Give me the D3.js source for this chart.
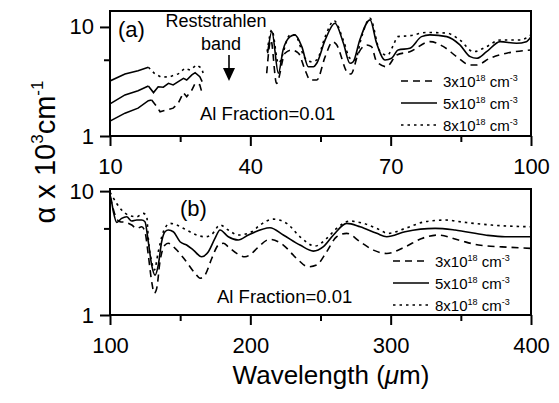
<!DOCTYPE html>
<html>
<head>
<meta charset="utf-8">
<script src="https://cdn.jsdelivr.net/npm/d3@7"></script>
<style>
  body { margin: 0; background: #fff; }
  text { font-family: "Liberation Sans", Arial, Helvetica, sans-serif; fill: #000; }
</style>
</head>
<body>
<svg width="559" height="403"></svg>
<script>
// ---- data: [wavelength (um), alpha (10^3 cm^-1)] ----
// panel (a), below the Reststrahlen band
const a3Low = [[10,1.37],[13.2,1.62],[16,1.8],[18.2,2.11],[18.9,2.14],[20,1.86],[20.7,1.67],[22.1,1.73],[23.5,1.8],[24.6,2.0],[25.7,2.5],[26.4,2.29],[27.5,2.64],[28.2,3.04],[29.2,2.94],[29.6,2.55]];
const a5Low = [[10,1.97],[13.2,2.38],[16,2.6],[18.2,2.87],[19.3,2.5],[20.3,2.83],[21.4,2.8],[22.5,3.04],[23.5,2.94],[24.6,3.15],[25.7,3.38],[26.4,3.26],[27.5,3.63],[28.2,3.81],[29.2,3.5],[29.7,3.15]];
const a8Low = [[10,3.2],[13.2,3.71],[16,3.97],[18.2,4.27],[19.6,3.71],[21,3.46],[22.8,3.5],[24.6,3.71],[26,4.18],[27.1,4.03],[28.5,4.48],[29.6,4.18],[29.9,3.78]];
// panel (a), above the band
const a3High = [[43.5,3.76],[44.4,7.6],[45.6,3.04],[47.4,5.74],[48.8,6.15],[50.3,5.74],[51.7,4.03],[52.8,3.26],[54.2,3.26],[56,5.34],[57.6,7.3],[58.3,7.0],[60.9,3.76],[61.5,3.7],[63.1,5.74],[64.9,6.84],[65.9,6.6],[67,4.8],[69.1,4.32],[71.3,5.53],[74.1,5.93],[78.4,7.33],[81.3,6.6],[84.1,5.34],[87,4.48],[88.4,4.48],[91.2,5.16],[94.8,5.74],[100,6.15]];
const a5High = [[43.7,5.74],[44.6,9.06],[46,3.76],[47,6.15],[48.5,8.15],[49.5,8.45],[51,6.6],[52.4,4.32],[53.5,4.32],[54.2,4.65],[56,7.6],[58.1,10.8],[59.9,7.08],[61.3,4.64],[62,4.8],[63.4,7.6],[65.6,11.6],[67,7.08],[68.8,4.98],[70.2,5.16],[71.6,6.15],[74.1,6.37],[76.6,8.15],[78.4,8.45],[82,8.15],[84.8,6.84],[87,5.34],[88.4,5.16],[90.5,5.93],[93.4,7.33],[96.9,7.08],[99,7.33],[100,8.15]];
const a8High = [[43.6,5.93],[44.6,9.39],[46,4.64],[48.5,8.45],[49.5,8.45],[51.7,5.16],[53.1,4.8],[54.2,4.98],[56,8.15],[57.9,11.4],[59.9,7.5],[61.3,5.16],[62.4,4.98],[63.8,8.15],[65.6,12.0],[67.7,6.0],[69.3,5.5],[70.6,6.84],[71.5,8.15],[74,8.3],[77.7,8.9],[82,8.77],[84.8,7.6],[87.7,5.93],[90.5,6.6],[93.4,7.6],[97.6,7.6],[100,8.45]];
// panel (b)
const b3 = [[100,9.0],[101.5,7.8],[103.6,6.4],[107.1,5.66],[111,5.6],[115.5,5.32],[119,5.0],[122.6,5.15],[124.9,4.7],[127.3,3.05],[129.7,1.86],[131.6,1.5],[133.3,1.64],[135.6,2.69],[139.2,3.67],[141.6,3.79],[146.4,3.45],[153.5,2.78],[160.6,2.17],[164.2,1.98],[167.7,2.1],[172.5,2.86],[177.2,3.67],[180.8,3.79],[184.3,3.55],[190.3,3.14],[196.2,2.95],[201,3.14],[204.7,3.45],[214,4.08],[223.5,3.67],[233,2.86],[241.3,2.45],[247.2,2.53],[254.4,3.24],[261.5,4.28],[268.7,4.56],[278.2,3.9],[287.7,3.34],[297.2,3.14],[310.3,3.55],[322.2,4.15],[334,4.42],[348.3,4.03],[362.6,3.67],[379.2,3.55],[400,3.45]];
const b5 = [[100,9.3],[100.7,8.73],[102.4,6.81],[104.8,5.59],[108.3,6.02],[111.9,6.21],[115.5,5.73],[119,5.84],[122.6,5.84],[124.9,5.66],[127.3,3.9],[129.7,2.53],[132.1,2.1],[134.4,2.53],[136.8,3.9],[139.2,4.7],[141.6,4.85],[145.1,4.7],[149.9,3.9],[154.6,3.67],[159.4,3.34],[165.3,2.95],[170.1,3.24],[174.8,4.15],[178.4,4.85],[184.3,4.28],[191.4,4.03],[198.6,4.42],[214,5.06],[223.5,4.42],[235.4,3.67],[244.9,3.28],[252.1,3.56],[259.2,4.42],[268.7,5.49],[278.2,5.15],[290.1,4.56],[297.2,4.28],[310.3,4.7],[331.7,5.0],[345.9,4.85],[367.3,4.42],[381.5,4.28],[400,4.28]];
const b8 = [[100,9.8],[101.2,9.29],[104.8,7.95],[108.3,7.03],[113.1,6.4],[119,6.21],[123.8,6.61],[126.2,6.21],[127.3,4.15],[129.7,2.69],[131.6,2.31],[134.4,3.24],[138,4.7],[142.8,5.49],[147.5,5.32],[154.6,4.85],[161.8,4.42],[167.7,4.28],[172.5,4.47],[178.4,5.32],[184.3,4.85],[191.4,4.42],[201,4.7],[206.9,5.32],[216.4,5.94],[225.9,5.49],[235.4,4.28],[246.1,3.6],[254.4,4.15],[261.5,5.0],[271,5.73],[280.5,5.49],[290,5.0],[298.4,4.56],[310.3,5.0],[324.5,5.66],[338.8,5.84],[353,5.59],[372,5.32],[400,5.15]];

const xTicksA = [10, 40, 70, 100], xMinorA = [25, 55, 85];
const xTicksB = [100, 200, 300, 400], xMinorB = [150, 250, 350];
const yTicks = [1, 10], yMinor = [5];
const legendLabels = ["3", "5", "8"];

const dashes = { d3: "7,5", d5: null, d8: "2.5,4" };

const svg = d3.select("svg");

// scales
const xA = d3.scaleLinear().domain([10, 100]).range([110, 531]);
const yA = d3.scaleLog().domain([1, 14]).range([136, 11]);
const xB = d3.scaleLinear().domain([100, 400]).range([110, 531]);
const yB = d3.scaleLog().domain([1, 10.4]).range([315, 189]);

function panel(id, x, y, xt, xm) {
  const [x0, x1] = x.range(), [y0, y1] = y.range();
  svg.append("clipPath").attr("id", id)
    .append("rect").attr("x", x0).attr("y", y1).attr("width", x1 - x0).attr("height", y0 - y1);

  // minor ticks
  svg.append("g").attr("transform", `translate(0,${y0})`)
    .call(d3.axisBottom(x).tickValues(xm).tickSize(6).tickFormat(""))
    .call(g => g.select(".domain").remove());
  svg.append("g").attr("transform", `translate(${x0},0)`)
    .call(d3.axisLeft(y).tickValues(yMinor).tickSize(6).tickFormat(""))
    .call(g => g.select(".domain").remove());
  // major ticks
  svg.append("g").attr("transform", `translate(0,${y0})`)
    .call(d3.axisBottom(x).tickValues(xt).tickSize(10).tickFormat(d3.format("d")))
    .call(g => g.select(".domain").remove())
    .call(g => g.selectAll("text").attr("y", 22).attr("font-size", "22px"));
  svg.append("g").attr("transform", `translate(${x0},0)`)
    .call(d3.axisLeft(y).tickValues(yTicks).tickSize(10).tickFormat(d3.format("d")))
    .call(g => g.select(".domain").remove())
    .call(g => g.selectAll("text").attr("x", -16).attr("font-size", "22px"));
  svg.selectAll(".tick line").attr("stroke-width", 2);
  svg.selectAll(".tick text").attr("font-family", null);

  // frame
  svg.append("rect").attr("x", x0).attr("y", y1).attr("width", x1 - x0).attr("height", y0 - y1)
    .attr("fill", "none").attr("stroke", "#000").attr("stroke-width", 2);
}

function curve(data, x, y, dash, clip, smooth) {
  const line = d3.line().x(d => x(d[0])).y(d => y(d[1]))
    .curve(smooth ? d3.curveMonotoneX : d3.curveLinear);
  svg.append("path").datum(data)
    .attr("d", line).attr("fill", "none").attr("stroke", "#000")
    .attr("stroke-width", 1.6).attr("stroke-dasharray", dash)
    .attr("clip-path", `url(#${clip})`);
}

panel("clipA", xA, yA, xTicksA, xMinorA);
panel("clipB", xB, yB, xTicksB, xMinorB);

// panel (a): the start of the low-wavelength traces is drawn solid
const solidUntil = 19;
[[a3Low, dashes.d3], [a5Low, dashes.d5], [a8Low, dashes.d8]].forEach(([s, dash]) => {
  const head = s.filter(d => d[0] <= solidUntil);
  const tail = s.filter(d => d[0] >= head[head.length - 1][0]);
  curve(head, xA, yA, null, "clipA", false);
  curve(tail, xA, yA, dash, "clipA", false);
});
curve(a3High, xA, yA, dashes.d3, "clipA", true);
curve(a5High, xA, yA, dashes.d5, "clipA", true);
curve(a8High, xA, yA, dashes.d8, "clipA", true);

curve(b3, xB, yB, dashes.d3, "clipB", true);
curve(b5, xB, yB, dashes.d5, "clipB", true);
curve(b8, xB, yB, dashes.d8, "clipB", true);

// legends
function legend(lx, ly) {
  const dl = [dashes.d3, dashes.d5, dashes.d8];
  legendLabels.forEach((lab, i) => {
    const yy = ly + i * 22;
    svg.append("line").attr("x1", lx).attr("x2", lx + 36).attr("y1", yy).attr("y2", yy)
      .attr("stroke", "#000").attr("stroke-width", 1.6).attr("stroke-dasharray", dl[i]);
    const t = svg.append("text").attr("x", lx + 42).attr("y", yy + 6).attr("font-size", "15px");
    t.append("tspan").text(lab + "x10");
    t.append("tspan").attr("font-size", "9px").attr("dy", -6).text("18");
    t.append("tspan").attr("dy", 6).text(" cm");
    t.append("tspan").attr("font-size", "9px").attr("dy", -6).text("-3");
  });
}
legend(401, 81);
legend(393, 261);

// annotations
svg.append("text").attr("x", 118).attr("y", 37).attr("font-size", "22px").text("(a)");
svg.append("text").attr("x", 180).attr("y", 216).attr("font-size", "22px").text("(b)");
svg.append("text").attr("x", 216).attr("y", 27).attr("font-size", "18px").attr("text-anchor", "middle").text("Reststrahlen");
svg.append("text").attr("x", 221).attr("y", 50).attr("font-size", "18px").attr("text-anchor", "middle").text("band");
svg.append("line").attr("x1", 229).attr("x2", 229).attr("y1", 55).attr("y2", 70)
  .attr("stroke", "#000").attr("stroke-width", 1.6);
svg.append("path").attr("d", "M223,68L235,68L229,81Z").attr("fill", "#000");
svg.append("text").attr("x", 200).attr("y", 120).attr("font-size", "18.5px").text("Al Fraction=0.01");
svg.append("text").attr("x", 217).attr("y", 303).attr("font-size", "18.5px").text("Al Fraction=0.01");

// axis titles
const xt = svg.append("text").attr("x", 331).attr("y", 384).attr("font-size", "26px").attr("text-anchor", "middle");
xt.append("tspan").text("Wavelength (");
xt.append("tspan").attr("font-style", "italic").text("\u03bc");
xt.append("tspan").text("m)");

const yt = svg.append("text").attr("transform", "translate(55,152) rotate(-90)")
  .attr("font-size", "29px").attr("text-anchor", "middle");
yt.append("tspan").text("\u03b1 x 10");
yt.append("tspan").attr("font-size", "17px").attr("dy", -12).text("3");
yt.append("tspan").attr("dy", 12).text("cm");
yt.append("tspan").attr("font-size", "17px").attr("dy", -12).text("-1");
</script>
</body>
</html>
